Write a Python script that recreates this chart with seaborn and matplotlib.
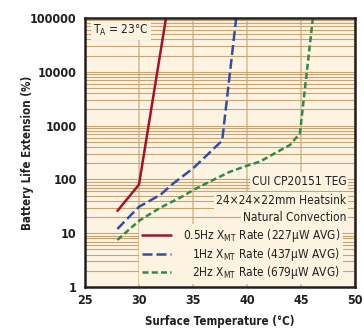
import pandas as pd
import seaborn as sns
import matplotlib
matplotlib.use("Agg")
import matplotlib.pyplot as plt
from matplotlib.ticker import LogLocator, FixedLocator, FuncFormatter

sns.set_style("white")
plt.rcParams['font.family'] = ['DejaVu Sans']
plt.rcParams['font.stretch'] = 'condensed'

# series
temp_05 = [28, 30, 32.5]
ext_05 = [26, 80, 100000]
temp_1 = [28, 30, 32, 33.2, 35, 37.7, 39]
ext_1 = [12, 31, 52, 85, 160, 525, 100000]
temp_2 = [28, 30, 32, 34, 35, 36.5, 38.4, 40, 41.2, 42.5, 44, 44.9, 46.1]
ext_2 = [7.5, 17, 30, 48, 63, 90, 138, 180, 214, 300, 440, 720, 100000]

labels = [r"0.5Hz X$_\mathregular{MT}$ Rate (227μW AVG)",
          r"1Hz X$_\mathregular{MT}$ Rate (437μW AVG)",
          r"2Hz X$_\mathregular{MT}$ Rate (679μW AVG)"]
notes = ["CUI CP20151 TEG", "24×24×22mm Heatsink", "Natural Convection"]
x_ticks = [25, 30, 35, 40, 45, 50]
y_ticks = [1, 10, 100, 1000, 10000, 100000]

bg = "#FDF3E1"
ink = "#231F20"
colors = ["#A0122E", "#3050A6", "#2E8A45"]
dashes = [None, (4, 1.6), (2.4, 1.3)]

fig = plt.figure(figsize=(3.64, 3.30), dpi=100)
ax = fig.add_axes([85 / 364, 1 - 287 / 330, 270 / 364, 269 / 330])
ax.set_facecolor(bg)

series = [(temp_05, ext_05), (temp_1, ext_1), (temp_2, ext_2)]
for (t, e), lab, c, d in zip(series, labels, colors, dashes):
    df = pd.DataFrame({"temp": t, "ext": e})
    sns.lineplot(data=df, x="temp", y="ext", ax=ax, color=c, lw=1.8,
                 label=lab, sort=False)
    if d is not None:
        ax.lines[-1].set_dashes(d)

ax.set_yscale("log")
ax.set_xlim(25, 50)
ax.set_ylim(1, 100000)

# grid
ax.yaxis.set_minor_locator(LogLocator(base=10, subs=range(2, 10)))
ax.grid(True, which="both", axis="y", color="#C6A473", lw=0.8, zorder=0)
ax.xaxis.set_major_locator(FixedLocator(x_ticks))
ax.grid(True, which="major", axis="x", color="#DCC39E", lw=1.3, zorder=0)
ax.set_axisbelow(True)

ax.yaxis.set_major_locator(FixedLocator(y_ticks))
ax.yaxis.set_major_formatter(FuncFormatter(lambda v, p: f"{int(v)}"))
ax.tick_params(which="both", length=0, labelsize=9, colors=ink)
ax.tick_params(axis="y", pad=6)
ax.tick_params(axis="x", pad=5)
for t in ax.get_xticklabels() + ax.get_yticklabels():
    t.set_fontweight("bold")

ax.set_xlabel("Surface Temperature (°C)", fontsize=8.3, fontweight="bold", color=ink)
ax.set_ylabel("Battery Life Extension (%)", fontsize=8.3, fontweight="bold", color=ink)
ax.xaxis.set_label_coords(0.5, -0.105)
ax.yaxis.set_label_coords(-0.19, 0.5)

for s in ax.spines.values():
    s.set_color(ink)
    s.set_linewidth(1.8)

fs = 8.6
box = dict(facecolor=bg, edgecolor="none", pad=1.5)
ax.text(0.03, 0.955, r"T$_\mathregular{A}$ = 23°C", transform=ax.transAxes,
        fontsize=fs, ha="left", va="center", bbox=box, color=ink, zorder=6)
for note, yy in zip(notes, [0.394, 0.323, 0.257]):
    ax.text(0.968, yy, note, transform=ax.transAxes, fontsize=fs,
            ha="right", va="center", bbox=box, color=ink, zorder=6)

leg = ax.legend(loc="lower right", bbox_to_anchor=(0.978, -0.012), fontsize=fs,
                frameon=True, facecolor=bg, edgecolor="none", framealpha=1,
                handlelength=2.4, handletextpad=1.0, labelspacing=0.12,
                borderpad=0.25, fancybox=False)
leg.set_zorder(5)
# legend labels are right-aligned in the original: hide the left-aligned ones
# and redraw them flush right at the same rows
fig.canvas.draw()
inv = ax.transAxes.inverted()
right_px = max(t.get_window_extent().x1 for t in leg.get_texts())
for t in leg.get_texts():
    bb = t.get_window_extent()
    x, y = inv.transform((right_px, (bb.y0 + bb.y1) / 2))
    ax.text(x, y, t.get_text(), transform=ax.transAxes, fontsize=fs,
            ha="right", va="center", color=ink, zorder=10)
    t.set_visible(False)

fig.savefig("out.png", dpi=100, facecolor="white")
